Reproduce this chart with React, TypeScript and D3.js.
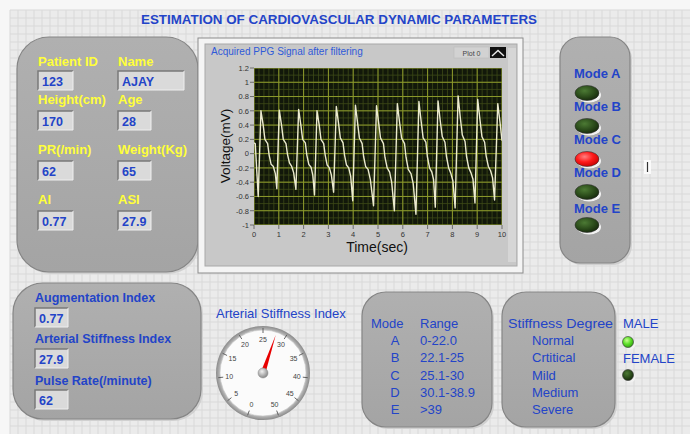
import React from "react";
import * as d3 from "d3";

const W = 690;
const H = 434;

// PPG signal (time in s, voltage in mV)
const timeSec = [
  0.0, 0.05, 0.17, 0.28, 0.37, 0.44, 0.55, 0.61, 0.69, 0.78, 0.86,
  0.92, 1.02, 1.11, 1.18, 1.29, 1.35, 1.43, 1.52, 1.6,
  1.69, 1.8, 1.89, 1.96, 2.07, 2.13, 2.21, 2.3, 2.37,
  2.44, 2.54, 2.63, 2.7, 2.81, 2.87, 2.95, 3.04, 3.12,
  3.21, 3.32, 3.41, 3.48, 3.59, 3.65, 3.73, 3.82, 3.9,
  3.98, 4.09, 4.18, 4.25, 4.36, 4.42, 4.5, 4.6, 4.69,
  4.82, 4.94, 5.03, 5.1, 5.22, 5.28, 5.37, 5.47, 5.55,
  5.66, 5.78, 5.87, 5.95, 6.07, 6.13, 6.22, 6.33, 6.42,
  6.53, 6.65, 6.74, 6.82, 6.93, 6.99, 7.08, 7.17, 7.24,
  7.31, 7.42, 7.51, 7.59, 7.7, 7.76, 7.85, 7.94, 8.02,
  8.11, 8.23, 8.32, 8.4, 8.51, 8.57, 8.66, 8.75, 8.83,
  8.91, 9.02, 9.11, 9.19, 9.3, 9.36, 9.45, 9.54, 9.62,
  9.7, 9.83, 9.92, 10.0,
];
const voltageMv = [
  0.15, 0.14, -0.6, 0.6, 0.4, 0.2, 0.14, -0.02, -0.15, -0.18, -0.28,
  -0.49, 0.61, 0.4, 0.2, 0.14, -0.01, -0.13, -0.18, -0.27,
  -0.5, 0.62, 0.4, 0.2, 0.15, -0.02, -0.15, -0.19, -0.3,
  -0.58, 0.6, 0.4, 0.2, 0.14, -0.02, -0.16, -0.2, -0.3,
  -0.54, 0.66, 0.42, 0.22, 0.15, -0.02, -0.16, -0.2, -0.32,
  -0.66, 0.68, 0.42, 0.22, 0.14, -0.04, -0.18, -0.22, -0.36,
  -0.73, 0.67, 0.42, 0.22, 0.14, -0.05, -0.2, -0.26, -0.4,
  -0.8, 0.7, 0.44, 0.22, 0.14, -0.05, -0.22, -0.28, -0.42,
  -0.85, 0.73, 0.45, 0.22, 0.16, -0.04, -0.2, -0.26, -0.36,
  -0.75, 0.74, 0.46, 0.24, 0.16, -0.04, -0.2, -0.28, -0.38,
  -0.76, 0.81, 0.5, 0.26, 0.17, -0.04, -0.2, -0.27, -0.36,
  -0.69, 0.76, 0.48, 0.24, 0.16, -0.03, -0.18, -0.24, -0.34,
  -0.65, 0.7, 0.44, 0.18,
];

const yTickValues = [-1, -0.8, -0.6, -0.4, -0.2, 0, 0.2, 0.4, 0.6, 0.8, 1, 1.2];
const xTickValues = [0, 1, 2, 3, 4, 5, 6, 7, 8, 9, 10];

const patientLabels = ["Patient ID", "Name", "Height(cm)", "Age", "PR(/min)", "Weight(Kg)", "AI", "ASI"];
const patientValues = ["123", "AJAY", "170", "28", "62", "65", "0.77", "27.9"];

const summaryLabels = ["Augmentation Index", "Arterial Stiffness Index", "Pulse Rate(/minute)"];
const summaryValues = ["0.77", "27.9", "62"];

const gaugeTicks = [0, 5, 10, 15, 20, 25, 30, 35, 40, 45, 50];
const gaugeValue = 27.9;

const modeLetters = ["A", "B", "C", "D", "E"];
const modeRanges = ["0-22.0", "22.1-25", "25.1-30", "30.1-38.9", ">39"];
const stiffnessDegrees = ["Normal", "Crtitical", "Mild", "Medium", "Severe"];
const modeActive = [false, false, true, false, false];

const genderLabels = ["MALE", "FEMALE"];
const genderActive = [true, false];

const FONT = "'Liberation Sans', Arial, sans-serif";
const BLUE = "#2344c8";
const YELLOW = "#ffff3a";

function ValueBox({ x, y, w, h, text }: { x: number; y: number; w: number; h: number; text: string }) {
  return (
    <g>
      <rect x={x} y={y} width={w} height={h} fill="#dadada" />
      <path d={`M${x},${y + h} L${x},${y} L${x + w},${y}`} fill="none" stroke="#7a7a7a" strokeWidth={1.5} />
      <path d={`M${x + w},${y} L${x + w},${y + h} L${x},${y + h}`} fill="none" stroke="#efefef" strokeWidth={1} />
      <text x={x + 4} y={y + h - 4.5} fontFamily={FONT} fontWeight="bold" fontSize={12.5} fill={BLUE}>
        {text}
      </text>
    </g>
  );
}

function Panel({ x, y, w, h, r }: { x: number; y: number; w: number; h: number; r: number }) {
  return (
    <g>
      <rect x={x + 2} y={y + 2} width={w} height={h} rx={r} fill="#d0d0d0" />
      <rect x={x} y={y} width={w} height={h} rx={r} fill="url(#panelGrad)" stroke="#858585" strokeWidth={1.2} />
    </g>
  );
}

function Led({ cx, cy, rx, ry, on, color }: { cx: number; cy: number; rx: number; ry: number; on: boolean; color: string }) {
  const grad = on ? (color === "red" ? "url(#ledRed)" : "url(#ledGreenOn)") : "url(#ledOff)";
  return (
    <g>
      <ellipse cx={cx + 2} cy={cy + 2} rx={rx} ry={ry} fill="#f2f2f2" />
      <ellipse cx={cx} cy={cy} rx={rx} ry={ry} fill={grad} stroke="#333" strokeWidth={0.6} />
    </g>
  );
}

export default function App() {
  // plot scales
  const x = d3.scaleLinear().domain([0, 10]).range([254, 502]);
  const y = d3.scaleLinear().domain([-1, 1.2]).range([225, 68]);
  const line = d3
    .line<number>()
    .x((_, i) => x(timeSec[i]))
    .y((d) => y(d))
    .curve(d3.curveLinear);
  const linePath = line(voltageMv) || "";

  const minorX = d3.range(0, 10.001, 0.2);
  const minorY = d3.range(-1, 1.2001, 0.1);

  // gauge
  const gcx = 263;
  const gcy = 373;
  const ang = d3.scaleLinear().domain([0, 50]).range([-160, 160]);
  const polar = (deg: number, r: number) => {
    const a = (deg * Math.PI) / 180;
    return [gcx + r * Math.sin(a), gcy - r * Math.cos(a)];
  };
  const needleA = ang(gaugeValue);
  const tip = polar(needleA, 40);
  const b1 = polar(needleA - 90, 2.4);
  const b2 = polar(needleA + 90, 2.4);

  // background grid
  const gridXs = d3.range(10, W, 8);
  const gridYs = d3.range(10, H, 8);

  const patientCols = [38, 118];
  const patientLabelY = [66, 104, 154, 204];
  const patientBoxY = [71, 111, 161, 211];

  return (
    <div style={{ position: "absolute", left: 0, top: 0, width: W, height: H }}>
      <svg width={W} height={H} viewBox={`0 0 ${W} ${H}`} style={{ display: "block" }}>
        <defs>
          <linearGradient id="panelGrad" x1="0" y1="0" x2="0" y2="1">
            <stop offset="0" stopColor="#b0b0b0" />
            <stop offset="1" stopColor="#a4a4a4" />
          </linearGradient>
          <radialGradient id="ledOff" cx="0.4" cy="0.35" r="0.7">
            <stop offset="0" stopColor="#4c7a34" />
            <stop offset="0.6" stopColor="#2a4a1a" />
            <stop offset="1" stopColor="#15260c" />
          </radialGradient>
          <radialGradient id="ledRed" cx="0.4" cy="0.35" r="0.7">
            <stop offset="0" stopColor="#ff8080" />
            <stop offset="0.5" stopColor="#ff1a1a" />
            <stop offset="1" stopColor="#c00000" />
          </radialGradient>
          <radialGradient id="ledGreenOn" cx="0.4" cy="0.35" r="0.7">
            <stop offset="0" stopColor="#c8ff90" />
            <stop offset="0.5" stopColor="#5ee02a" />
            <stop offset="1" stopColor="#2f9a10" />
          </radialGradient>
          <radialGradient id="gaugeRing" cx="0.5" cy="0.5" r="0.5">
            <stop offset="0.85" stopColor="#e0e0e0" />
            <stop offset="1" stopColor="#8a8a8a" />
          </radialGradient>
          <radialGradient id="hub" cx="0.4" cy="0.35" r="0.7">
            <stop offset="0" stopColor="#f0f0f0" />
            <stop offset="1" stopColor="#808080" />
          </radialGradient>
          <clipPath id="plotClip">
            <rect x={254} y={68} width={248} height={157} />
          </clipPath>
        </defs>

        {/* page background */}
        <rect x={0} y={0} width={W} height={H} fill="#f7f7f7" />
        <rect x={10} y={10} width={W - 10} height={H - 10} fill="#ebebeb" />
        {gridXs.map((gx) => (
          <line key={"gx" + gx} x1={gx} x2={gx} y1={10} y2={H} stroke="#d9d9d9" strokeWidth={1} />
        ))}
        {gridYs.map((gy) => (
          <line key={"gy" + gy} x1={10} x2={W} y1={gy} y2={gy} stroke="#d9d9d9" strokeWidth={1} />
        ))}

        {/* title */}
        <text x={141} y={24} fontFamily={FONT} fontWeight="bold" fontSize={12.5} fill={BLUE} textLength={396} lengthAdjust="spacingAndGlyphs">
          ESTIMATION OF CARDIOVASCULAR DYNAMIC PARAMETERS
        </text>

        {/* patient panel */}
        <Panel x={17} y={37} w={181} h={235} r={32} />
        {patientLabels.map((lab, i) => {
          const col = i % 2;
          const row = Math.floor(i / 2);
          return (
            <text key={lab} x={patientCols[col]} y={patientLabelY[row]} fontFamily={FONT} fontWeight="bold" fontSize={13} fill={YELLOW}>
              {lab}
            </text>
          );
        })}
        {patientValues.map((v, i) => {
          const col = i % 2;
          const row = Math.floor(i / 2);
          const w = col === 0 ? 35 : i === 1 ? 66 : 33;
          return <ValueBox key={"pv" + i} x={patientCols[col]} y={patientBoxY[row]} w={w} h={19} text={v} />;
        })}

        {/* graph frame */}
        <rect x={198} y={38} width={325} height={235} fill="#f4f4f4" stroke="#8c8c8c" strokeWidth={1} />
        <rect x={205} y={44} width={312} height={222} fill="#c8c8c8" stroke="#a8a8a8" strokeWidth={1} />
        <rect x={508} y={48} width={8} height={214} fill="#d6d6d6" />
        <text x={211} y={55} fontFamily={FONT} fontSize={10} fill="#2f5ad8">
          Acquired PPG Signal after filtering
        </text>
        <rect x={454} y={47} width={35} height={11} fill="#d2d2d2" stroke="#bdbdbd" strokeWidth={0.6} />
        <text x={471.5} y={55.5} textAnchor="middle" fontFamily={FONT} fontSize={7} fill="#444">
          Plot 0
        </text>
        <rect x={490} y={47} width={16} height={11} fill="#111" />
        <path d="M492,56 L498,50.5 L504,56" fill="none" stroke="#e8e8e8" strokeWidth={1.4} />

        {/* plot area */}
        <rect x={254} y={68} width={248} height={157} fill="#12180a" />
        <g clipPath="url(#plotClip)">
          {minorX.map((t) => (
            <line key={"mx" + t} x1={x(t)} x2={x(t)} y1={68} y2={225} stroke="#3e4a18" strokeWidth={0.8} />
          ))}
          {minorY.map((v) => (
            <line key={"my" + v} x1={254} x2={502} y1={y(v)} y2={y(v)} stroke="#3e4a18" strokeWidth={0.8} />
          ))}
          {xTickValues.map((t) => (
            <line key={"Mx" + t} x1={x(t)} x2={x(t)} y1={68} y2={225} stroke="#8d9a2c" strokeWidth={1} />
          ))}
          {yTickValues.map((v) => (
            <line key={"My" + v} x1={254} x2={502} y1={y(v)} y2={y(v)} stroke="#8d9a2c" strokeWidth={1} />
          ))}
          <path d={linePath} fill="none" stroke="#ecebcf" strokeWidth={1.4} strokeLinejoin="round" />
        </g>

        {/* axes */}
        {yTickValues.map((v) => (
          <g key={"yt" + v}>
            <line x1={250} x2={254} y1={y(v)} y2={y(v)} stroke="#555" strokeWidth={0.8} />
            <text x={249} y={y(v) + 2.8} textAnchor="end" fontFamily={FONT} fontSize={7.5} fill="#333">
              {String(+v.toFixed(1))}
            </text>
          </g>
        ))}
        {xTickValues.map((t) => (
          <g key={"xt" + t}>
            <line x1={x(t)} x2={x(t)} y1={225} y2={229} stroke="#555" strokeWidth={0.8} />
            <text x={x(t)} y={236.5} textAnchor="middle" fontFamily={FONT} fontSize={7.5} fill="#333">
              {t}
            </text>
          </g>
        ))}
        <text transform="translate(230,146) rotate(-90)" textAnchor="middle" fontFamily={FONT} fontSize={13.5} fill="#111">
          Voltage(mV)
        </text>
        <text x={377} y={252} textAnchor="middle" fontFamily={FONT} fontSize={14} fill="#111">
          Time(sec)
        </text>

        {/* mode LEDs panel */}
        <Panel x={560} y={37} w={70} h={226} r={20} />
        {modeLetters.map((m, i) => {
          const ty = [78, 111, 144, 177, 213][i];
          const ly = [93, 126, 159, 192, 225][i];
          return (
            <g key={"mode" + m}>
              <text x={574} y={ty} fontFamily={FONT} fontWeight="bold" fontSize={13} fill={BLUE}>
                {"Mode " + m}
              </text>
              <Led cx={587} cy={ly} rx={12} ry={7.5} on={modeActive[i]} color="red" />
            </g>
          );
        })}
        <rect x={644} y={160} width={7} height={14} fill="#fafafa" />
        <line x1={647.5} x2={647.5} y1={162} y2={172} stroke="#333" strokeWidth={1.2} />

        {/* summary panel */}
        <Panel x={13} y={283} w={188} h={136} r={30} />
        {summaryLabels.map((lab, i) => (
          <g key={lab}>
            <text x={35} y={[302, 343, 385][i]} fontFamily={FONT} fontWeight="bold" fontSize={12.5} fill={BLUE}>
              {lab}
            </text>
            <ValueBox x={35} y={[308, 349, 390][i]} w={33} h={19} text={summaryValues[i]} />
          </g>
        ))}

        {/* gauge */}
        <text x={216} y={318} fontFamily={FONT} fontSize={13} fill={BLUE}>
          Arterial Stiffness Index
        </text>
        <circle cx={gcx} cy={gcy} r={47} fill="url(#gaugeRing)" />
        <circle cx={gcx} cy={gcy} r={43} fill="#fbfbfb" stroke="#c4c4c4" strokeWidth={0.6} />
        {gaugeTicks.map((t) => {
          const a = ang(t);
          const [x1, y1] = polar(a, 40);
          const [x2, y2] = polar(a, 45);
          const [lx, ly] = polar(a, 34);
          return (
            <g key={"g" + t}>
              <line x1={x1} y1={y1} x2={x2} y2={y2} stroke="#555" strokeWidth={0.9} />
              <text x={lx} y={ly + 2.5} textAnchor="middle" fontFamily={FONT} fontSize={7} fill="#444">
                {t}
              </text>
            </g>
          );
        })}
        <path d={`M${b1[0]},${b1[1]} L${tip[0]},${tip[1]} L${b2[0]},${b2[1]} Z`} fill="#e80000" />
        <circle cx={gcx} cy={gcy} r={5} fill="url(#hub)" stroke="#888" strokeWidth={0.5} />

        {/* mode / range panel */}
        <Panel x={362} y={292} w={130} h={135} r={24} />
        <text x={371} y={328} fontFamily={FONT} fontSize={13} fill={BLUE}>Mode</text>
        <text x={420} y={328} fontFamily={FONT} fontSize={13} fill={BLUE}>Range</text>
        {modeLetters.map((m, i) => (
          <g key={"mr" + m}>
            <text x={395} y={345 + i * 17.3} textAnchor="middle" fontFamily={FONT} fontSize={13} fill={BLUE}>
              {m}
            </text>
            <text x={420} y={345 + i * 17.3} fontFamily={FONT} fontSize={13} fill={BLUE}>
              {modeRanges[i]}
            </text>
          </g>
        ))}

        {/* stiffness degree panel */}
        <Panel x={502} y={292} w={113} h={135} r={24} />
        <text x={508} y={328} fontFamily={FONT} fontSize={13} fill={BLUE} textLength={105} lengthAdjust="spacingAndGlyphs">
          Stiffness Degree
        </text>
        {stiffnessDegrees.map((s, i) => (
          <text key={s} x={532} y={345 + i * 17.3} fontFamily={FONT} fontSize={13} fill={BLUE}>
            {s}
          </text>
        ))}

        {/* gender */}
        {genderLabels.map((g, i) => (
          <g key={g}>
            <text x={623} y={[328, 363][i]} fontFamily={FONT} fontSize={13} fill={BLUE}>
              {g}
            </text>
            <Led cx={628} cy={[342, 375][i]} rx={5.5} ry={5.5} on={genderActive[i]} color="green" />
          </g>
        ))}
      </svg>
    </div>
  );
}
